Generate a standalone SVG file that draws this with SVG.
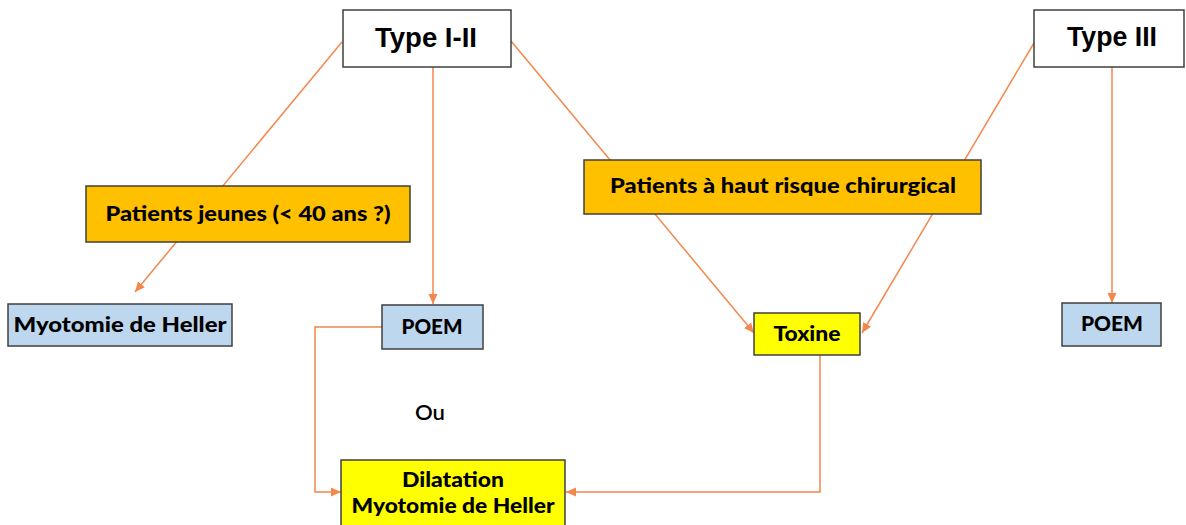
<svg xmlns="http://www.w3.org/2000/svg" width="1186" height="525" viewBox="0 0 1186 525">
  <defs>
    <marker id="arr" viewBox="0 0 10 10" refX="10" refY="5" markerWidth="10" markerHeight="10" markerUnits="userSpaceOnUse" orient="auto">
      <path d="M0,0.5 L10,5 L0,9.5 Z" fill="#F4874B"/>
    </marker>
    <style>
      .conn { fill: none; stroke: #F4874B; stroke-width: 1.5; }
      .box { stroke: #3F3F3F; stroke-width: 1.5; }
      .white { fill: #FFFFFF; }
      .orange { fill: #FFC000; }
      .yellow { fill: #FFFF00; }
      .blue { fill: #BDD7EE; }
      .t { font-family: Lato, "Open Sans", "Liberation Sans", sans-serif; font-weight: 900; font-size: 21.5px; fill: #000; text-anchor: middle; }
      .big { font-family: "Liberation Sans", Arial, sans-serif; font-weight: bold; font-size: 27px; fill: #000; text-anchor: middle; }
      .reg { font-family: Lato, "Open Sans", "Liberation Sans", sans-serif; font-weight: 600; font-size: 21px; fill: #000; text-anchor: middle; }
    </style>
  </defs>
  <rect width="1186" height="525" fill="#FFFFFF"/>

  <g id="connectors">
    <line class="conn" x1="342" y1="42" x2="135" y2="292" marker-end="url(#arr)"/>
    <line class="conn" x1="433" y1="67" x2="433" y2="304" marker-end="url(#arr)"/>
    <line class="conn" x1="511" y1="41" x2="754" y2="333" marker-end="url(#arr)"/>
    <line class="conn" x1="1034" y1="43" x2="862" y2="333" marker-end="url(#arr)"/>
    <line class="conn" x1="1112" y1="67" x2="1112" y2="303" marker-end="url(#arr)"/>
    <polyline class="conn" points="382,327 315,327 315,492 341,492" marker-end="url(#arr)"/>
    <polyline class="conn" points="820,355 820,492 566,492" marker-end="url(#arr)"/>
  </g>

  <g id="type-i-ii">
    <rect class="box white" x="343" y="10" width="168" height="57"/>
    <text class="big" x="426" y="47" textLength="102" lengthAdjust="spacingAndGlyphs">Type I-II</text>
  </g>

  <g id="type-iii">
    <rect class="box white" x="1034" y="10" width="150" height="57"/>
    <text class="big" x="1112" y="46" textLength="90" lengthAdjust="spacingAndGlyphs">Type III</text>
  </g>

  <g id="patients-jeunes">
    <rect class="box orange" x="86" y="186" width="324" height="56"/>
    <text class="t" x="248" y="221" textLength="285" lengthAdjust="spacingAndGlyphs">Patients jeunes (&lt; 40 ans ?)</text>
  </g>

  <g id="patients-risque">
    <rect class="box orange" x="584" y="160" width="397" height="54"/>
    <text class="t" x="783" y="193" textLength="346" lengthAdjust="spacingAndGlyphs">Patients à haut risque chirurgical</text>
  </g>

  <g id="myotomie-heller">
    <rect class="box blue" x="8" y="304" width="224" height="42"/>
    <text class="t" x="120" y="332" textLength="213" lengthAdjust="spacingAndGlyphs">Myotomie  de Heller</text>
  </g>

  <g id="poem-left">
    <rect class="box blue" x="382" y="305" width="101" height="44"/>
    <text class="t" x="432" y="334" textLength="61" lengthAdjust="spacingAndGlyphs">POEM</text>
  </g>

  <g id="toxine">
    <rect class="box yellow" x="754" y="313" width="106" height="42"/>
    <text class="t" x="807" y="341" textLength="67" lengthAdjust="spacingAndGlyphs">Toxine</text>
  </g>

  <g id="poem-right">
    <rect class="box blue" x="1062" y="303" width="99" height="43"/>
    <text class="t" x="1112" y="331" textLength="62" lengthAdjust="spacingAndGlyphs">POEM</text>
  </g>

  <g id="ou">
    <text class="reg" x="430" y="420" textLength="30" lengthAdjust="spacingAndGlyphs">Ou</text>
  </g>

  <g id="dilatation">
    <rect class="box yellow" x="341" y="460" width="224" height="72"/>
    <text class="t" x="453" y="487" textLength="102" lengthAdjust="spacingAndGlyphs">Dilatation</text>
    <text class="t" x="453" y="513" textLength="203" lengthAdjust="spacingAndGlyphs">Myotomie de Heller</text>
  </g>
</svg>
